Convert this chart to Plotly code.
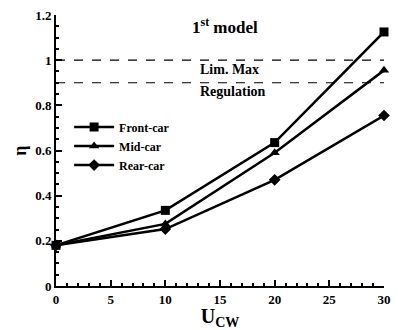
import plotly.graph_objects as go

u_cw = [0, 10, 20, 30]
front_car = [0.18, 0.335, 0.635, 1.125]
mid_car = [0.18, 0.275, 0.59, 0.955]
rear_car = [0.18, 0.252, 0.47, 0.755]
limit_levels = [1.0, 0.9]
limit_labels = ["Lim. Max", "Regulation"]
x_ticks = [0, 5, 10, 15, 20, 25, 30]
y_ticks = [0, 0.2, 0.4, 0.6, 0.8, 1, 1.2]
y_ticklabels = ["0", "0.2", "0.4", "0.6", "0.8", "1", "1.2"]

FONT = "Liberation Serif"
fig = go.Figure()
for name, ys, sym in [("Front-car", front_car, "square"),
                      ("Mid-car", mid_car, "triangle-up"),
                      ("Rear-car", rear_car, "diamond")]:
    fig.add_trace(go.Scatter(x=u_cw, y=ys, name="<b>%s</b>" % name, mode="lines+markers",
                             line=dict(color="black", width=2.5), cliponaxis=False,
                             marker=dict(symbol=sym, size=9, color="black")))

for lv in limit_levels:
    fig.add_shape(type="line", x0=0, x1=30, y0=lv, y1=lv, xref="x", yref="y",
                  line=dict(color="black", width=1.2, dash="dash"))

fig.add_annotation(x=13.0, y=0.957, text="<b>%s</b>" % limit_labels[0], showarrow=False,
                   xanchor="left", font=dict(family=FONT, size=14, color="black"))
fig.add_annotation(x=13.0, y=0.86, text="<b>%s</b>" % limit_labels[1], showarrow=False,
                   xanchor="left", font=dict(family=FONT, size=14, color="black"))
fig.add_annotation(x=15.5, y=1.15, text="<b>1<sup>st</sup> model</b>", showarrow=False,
                   font=dict(family=FONT, size=17, color="black"))

axis_common = dict(showline=True, linecolor="black", linewidth=2, ticks="inside",
                   tickcolor="black", tickwidth=1.5, ticklen=6, showgrid=False,
                   zeroline=False, mirror=False, ticklabeloverflow="allow",
                   tickfont=dict(family=FONT, size=13, color="black"))
fig.update_xaxes(range=[0, 30], tickvals=x_ticks,
                 ticktext=["<b>%d</b>" % v for v in x_ticks],
                 minor=dict(dtick=1, ticks="inside", ticklen=3, tickcolor="black"),
                 title=dict(text="<b>U<sub>CW</sub></b>", standoff=2,
                            font=dict(family=FONT, size=20, color="black")),
                 **axis_common)
fig.update_yaxes(range=[0, 1.2], tickvals=y_ticks,
                 ticktext=["<b>%s</b>" % t for t in y_ticklabels],
                 minor=dict(dtick=0.05, ticks="inside", ticklen=3, tickcolor="black"),
                 title=dict(text="<b>η</b>", standoff=4,
                            font=dict(family=FONT, size=18, color="black")),
                 **axis_common)

fig.update_layout(width=398, height=330, margin=dict(l=56, r=7, t=15, b=40),
                  paper_bgcolor="white", plot_bgcolor="white",
                  showlegend=True,
                  legend=dict(x=0.04, y=0.64, xanchor="left", yanchor="top",
                              bgcolor="rgba(0,0,0,0)", tracegroupgap=0,
                              font=dict(family=FONT, size=12, color="black"),
                              itemwidth=40))
fig.write_html("out.html")
